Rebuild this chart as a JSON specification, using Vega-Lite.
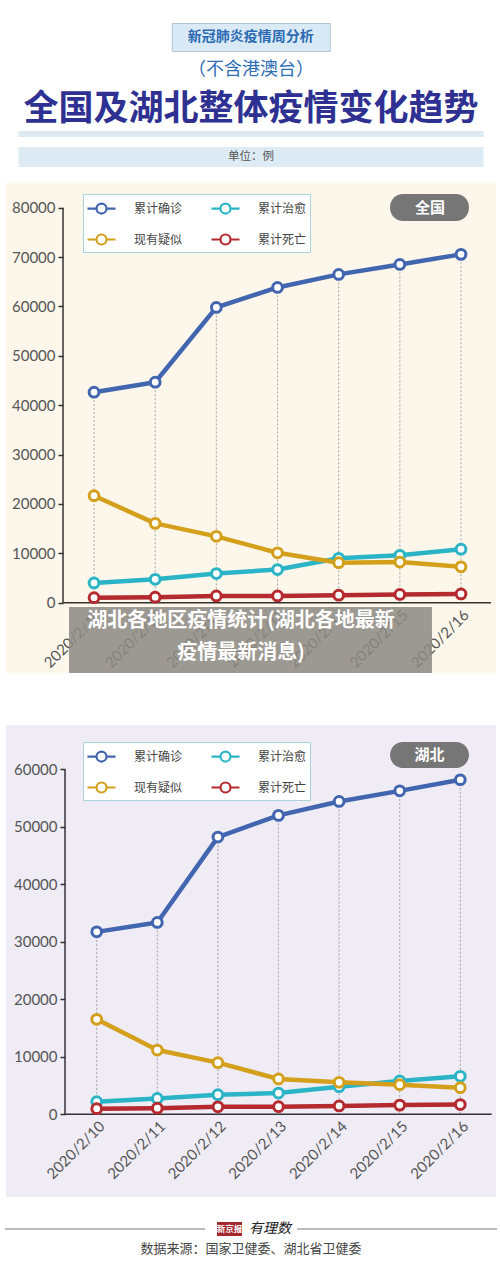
{
  "$schema": "https://vega.github.io/schema/vega-lite/v6.json",
  "background": "white",
  "padding": {"left": 5, "right": 5, "top": 22, "bottom": 20},
  "config": {
    "view": {"stroke": null},
    "font": "Noto Sans CJK SC",
    "text": {"font": "Noto Sans CJK SC"}
  },
  "datasets": {
    "national": [
      {"date": "2020/2/10", "day": 10, "series": "累计确诊", "value": 42638},
      {"date": "2020/2/11", "day": 11, "series": "累计确诊", "value": 44653},
      {"date": "2020/2/12", "day": 12, "series": "累计确诊", "value": 59804},
      {"date": "2020/2/13", "day": 13, "series": "累计确诊", "value": 63851},
      {"date": "2020/2/14", "day": 14, "series": "累计确诊", "value": 66492},
      {"date": "2020/2/15", "day": 15, "series": "累计确诊", "value": 68500},
      {"date": "2020/2/16", "day": 16, "series": "累计确诊", "value": 70548},
      {"date": "2020/2/10", "day": 10, "series": "累计治愈", "value": 3996},
      {"date": "2020/2/11", "day": 11, "series": "累计治愈", "value": 4740},
      {"date": "2020/2/12", "day": 12, "series": "累计治愈", "value": 5911},
      {"date": "2020/2/13", "day": 13, "series": "累计治愈", "value": 6723},
      {"date": "2020/2/14", "day": 14, "series": "累计治愈", "value": 9000},
      {"date": "2020/2/15", "day": 15, "series": "累计治愈", "value": 9600},
      {"date": "2020/2/16", "day": 16, "series": "累计治愈", "value": 10844},
      {"date": "2020/2/10", "day": 10, "series": "现有疑似", "value": 21675},
      {"date": "2020/2/11", "day": 11, "series": "现有疑似", "value": 16067},
      {"date": "2020/2/12", "day": 12, "series": "现有疑似", "value": 13435},
      {"date": "2020/2/13", "day": 13, "series": "现有疑似", "value": 10109},
      {"date": "2020/2/14", "day": 14, "series": "现有疑似", "value": 8100},
      {"date": "2020/2/15", "day": 15, "series": "现有疑似", "value": 8228},
      {"date": "2020/2/16", "day": 16, "series": "现有疑似", "value": 7264},
      {"date": "2020/2/10", "day": 10, "series": "累计死亡", "value": 1016},
      {"date": "2020/2/11", "day": 11, "series": "累计死亡", "value": 1113},
      {"date": "2020/2/12", "day": 12, "series": "累计死亡", "value": 1367},
      {"date": "2020/2/13", "day": 13, "series": "累计死亡", "value": 1380},
      {"date": "2020/2/14", "day": 14, "series": "累计死亡", "value": 1523},
      {"date": "2020/2/15", "day": 15, "series": "累计死亡", "value": 1665},
      {"date": "2020/2/16", "day": 16, "series": "累计死亡", "value": 1770}
    ],
    "hubei": [
      {"date": "2020/2/10", "day": 10, "series": "累计确诊", "value": 31728},
      {"date": "2020/2/11", "day": 11, "series": "累计确诊", "value": 33366},
      {"date": "2020/2/12", "day": 12, "series": "累计确诊", "value": 48206},
      {"date": "2020/2/13", "day": 13, "series": "累计确诊", "value": 51986},
      {"date": "2020/2/14", "day": 14, "series": "累计确诊", "value": 54406},
      {"date": "2020/2/15", "day": 15, "series": "累计确诊", "value": 56249},
      {"date": "2020/2/16", "day": 16, "series": "累计确诊", "value": 58182},
      {"date": "2020/2/10", "day": 10, "series": "累计治愈", "value": 2200},
      {"date": "2020/2/11", "day": 11, "series": "累计治愈", "value": 2750},
      {"date": "2020/2/12", "day": 12, "series": "累计治愈", "value": 3400},
      {"date": "2020/2/13", "day": 13, "series": "累计治愈", "value": 3700},
      {"date": "2020/2/14", "day": 14, "series": "累计治愈", "value": 4800},
      {"date": "2020/2/15", "day": 15, "series": "累计治愈", "value": 5800},
      {"date": "2020/2/16", "day": 16, "series": "累计治愈", "value": 6600},
      {"date": "2020/2/10", "day": 10, "series": "现有疑似", "value": 16520},
      {"date": "2020/2/11", "day": 11, "series": "现有疑似", "value": 11180},
      {"date": "2020/2/12", "day": 12, "series": "现有疑似", "value": 8980},
      {"date": "2020/2/13", "day": 13, "series": "现有疑似", "value": 6140},
      {"date": "2020/2/14", "day": 14, "series": "现有疑似", "value": 5560},
      {"date": "2020/2/15", "day": 15, "series": "现有疑似", "value": 5150},
      {"date": "2020/2/16", "day": 16, "series": "现有疑似", "value": 4630},
      {"date": "2020/2/10", "day": 10, "series": "累计死亡", "value": 974},
      {"date": "2020/2/11", "day": 11, "series": "累计死亡", "value": 1068},
      {"date": "2020/2/12", "day": 12, "series": "累计死亡", "value": 1310},
      {"date": "2020/2/13", "day": 13, "series": "累计死亡", "value": 1318},
      {"date": "2020/2/14", "day": 14, "series": "累计死亡", "value": 1457},
      {"date": "2020/2/15", "day": 15, "series": "累计死亡", "value": 1596},
      {"date": "2020/2/16", "day": 16, "series": "累计死亡", "value": 1696}
    ]
  },
  "resolve": {"scale": {"stroke": "independent"}, "legend": {"stroke": "independent"}},
  "vconcat": [
    {
      "width": 158, "height": 28,
      "view": {"fill": "#d9eaf6", "stroke": "#b3c4d3", "strokeWidth": 1},
      "data": {"values": [{"t": "新冠肺炎疫情周分析"}]},
      "mark": {"type": "text", "fontSize": 14, "fontWeight": "bold", "color": "#2b6ab2"},
      "encoding": {"text": {"field": "t"}}
    },
    {
      "width": 300, "height": 36,
      "data": {"values": [{"t": "（不含港澳台）"}]},
      "mark": {"type": "text", "fontSize": 18, "color": "#2f6fb5"},
      "encoding": {"text": {"field": "t"}}
    },
    {
      "width": 480, "height": 43,
      "data": {"values": [{"t": "全国及湖北整体疫情变化趋势"}]},
      "mark": {"type": "text", "fontSize": 35, "fontWeight": "bold", "color": "#2e3192", "dy": -1},
      "encoding": {"text": {"field": "t"}}
    },
    {
      "width": 465, "height": 6,
      "view": {"fill": "#dceaf3", "stroke": null},
      "data": {"values": []},
      "mark": "text"
    },
    {
      "width": 10, "height": 10,
      "data": {"values": []},
      "mark": "text"
    },
    {
      "width": 465, "height": 20,
      "view": {"fill": "#dcebf4", "stroke": null},
      "data": {"values": [{"t": "单位：例"}]},
      "mark": {"type": "text", "fontSize": 11.5, "color": "#555555"},
      "encoding": {"text": {"field": "t"}}
    },
    {
      "width": 10, "height": 16,
      "data": {"values": []},
      "mark": "text"
    },
    {
      "width": 490, "height": 490,
      "view": {"fill": "#fcf7ea", "stroke": null},
      "data": {"name": "national"},
      "layer": [
        {
          "transform": [{"filter": "datum.series === '累计确诊'"}],
          "mark": {"type": "rule", "strokeDash": [2, 2], "color": "#8f8f8f", "strokeWidth": 0.8},
          "encoding": {
            "x": {"field": "day", "type": "quantitative", "scale": {"domain": [8.561, 16.572], "nice": false, "zero": false},
              "axis": {"orient": "bottom", "offset": -70, "values": [10, 11, 12, 13, 14, 15, 16], "labelExpr": "'2020/2/' + datum.value", "labelAngle": -45, "labelAlign": "right", "labelBaseline": "top", "labelPadding": 4, "labelFont": "Lato", "labelFontSize": 15, "labelColor": "#555555", "labelOverlap": false, "labelFlush": false, "labelBound": false, "domain": false, "ticks": false, "grid": false, "title": null}},
            "y": {"field": "value", "type": "quantitative", "scale": {"domain": [-14238, 85003], "nice": false, "zero": false},
              "axis": {"orient": "left", "offset": -57, "values": [0, 10000, 20000, 30000, 40000, 50000, 60000, 70000, 80000], "format": "d", "labelFont": "Lato", "labelFontSize": 15, "labelColor": "#555555", "labelPadding": 3, "tickSize": 5, "tickColor": "#333333", "tickWidth": 1.5, "domain": false, "grid": false, "title": null, "labelOverlap": false, "labelFlush": false}},
            "y2": {"datum": 0}
          }
        },
        {
          "data": {"values": [{}]},
          "mark": {"type": "rule", "color": "#333333", "strokeWidth": 1.5},
          "encoding": {
            "x": {"datum": 9.493, "type": "quantitative", "scale": {"domain": [8.561, 16.572], "nice": false, "zero": false}},
            "x2": {"datum": 16.49},
            "y": {"datum": 0, "type": "quantitative", "scale": {"domain": [-14238, 85003], "nice": false, "zero": false}}
          }
        },
        {
          "data": {"values": [{}]},
          "mark": {"type": "rule", "color": "#333333", "strokeWidth": 1.5},
          "encoding": {
            "x": {"datum": 9.493, "type": "quantitative", "scale": {"domain": [8.561, 16.572], "nice": false, "zero": false}},
            "y": {"datum": 0, "type": "quantitative", "scale": {"domain": [-14238, 85003], "nice": false, "zero": false}},
            "y2": {"datum": 80000}
          }
        },
        {
          "mark": {"type": "line", "strokeWidth": 4.5, "strokeCap": "round", "strokeJoin": "round"},
          "encoding": {
            "x": {"field": "day", "type": "quantitative", "scale": {"domain": [8.561, 16.572], "nice": false, "zero": false}},
            "y": {"field": "value", "type": "quantitative", "scale": {"domain": [-14238, 85003], "nice": false, "zero": false}},
            "stroke": {"field": "series", "type": "nominal",
              "scale": {"domain": ["累计确诊", "现有疑似", "累计治愈", "累计死亡"], "range": ["#4265b0", "#d4a01c", "#2ab4c6", "#b52a2f"]},
              "legend": {"orient": "none", "legendX": 77, "legendY": 11, "columns": 2, "title": null,
                "symbolType": "M-1.4,0H-0.5M0.5,0H1.4M0.5,0A0.5,0.5,0,1,1,-0.5,0A0.5,0.5,0,1,1,0.5,0Z",
                "symbolSize": 400, "symbolStrokeWidth": 2.2, "symbolFillColor": "white", "symbolOffset": 4,
                "labelOffset": 21, "labelFont": "Noto Sans CJK SC", "labelFontSize": 12, "labelColor": "#444444",
                "columnPadding": 24, "rowPadding": 10, "padding": 3, "strokeColor": "#a9d3da", "fillColor": "white",
                "encode": {"symbols": {"update": {"fill": {"value": "white"}, "strokeWidth": {"value": 2.2}}}}}
            }
          }
        },
        {
          "mark": {"type": "point", "filled": true, "fill": "white", "size": 95, "strokeWidth": 3, "opacity": 1},
          "encoding": {
            "x": {"field": "day", "type": "quantitative", "scale": {"domain": [8.561, 16.572], "nice": false, "zero": false}},
            "y": {"field": "value", "type": "quantitative", "scale": {"domain": [-14238, 85003], "nice": false, "zero": false}},
            "stroke": {"field": "series", "type": "nominal",
              "scale": {"domain": ["累计确诊", "现有疑似", "累计治愈", "累计死亡"], "range": ["#4265b0", "#d4a01c", "#2ab4c6", "#b52a2f"]}}
          }
        },
        {
          "data": {"values": [{}]},
          "mark": {"type": "rect", "fill": "#767676", "cornerRadius": 13},
          "encoding": {
            "x": {"datum": 14.839, "type": "quantitative", "scale": {"domain": [8.561, 16.572], "nice": false, "zero": false}},
            "x2": {"datum": 16.13},
            "y": {"datum": 82775, "type": "quantitative", "scale": {"domain": [-14238, 85003], "nice": false, "zero": false}},
            "y2": {"datum": 77306}
          }
        },
        {
          "data": {"values": [{"t": "全国"}]},
          "mark": {"type": "text", "color": "white", "fontSize": 15, "fontWeight": "bold"},
          "encoding": {
            "x": {"datum": 15.493, "type": "quantitative", "scale": {"domain": [8.561, 16.572], "nice": false, "zero": false}},
            "y": {"datum": 80040, "type": "quantitative", "scale": {"domain": [-14238, 85003], "nice": false, "zero": false}},
            "text": {"field": "t"}
          }
        },
        {
          "data": {"values": [{}]},
          "mark": {"type": "rect", "fill": "#8c8984", "opacity": 0.86},
          "encoding": {
            "x": {"datum": 9.591, "type": "quantitative", "scale": {"domain": [8.561, 16.572], "nice": false, "zero": false}},
            "x2": {"datum": 15.525},
            "y": {"datum": -871, "type": "quantitative", "scale": {"domain": [-14238, 85003], "nice": false, "zero": false}},
            "y2": {"datum": -14238}
          }
        },
        {
          "data": {"values": [{}]},
          "mark": {"type": "text", "color": "white", "fontSize": 20, "fontWeight": "bold", "lineHeight": 32,
            "text": ["湖北各地区疫情统计(湖北各地最新", "疫情最新消息)"]},
          "encoding": {
            "x": {"datum": 12.403, "type": "quantitative", "scale": {"domain": [8.561, 16.572], "nice": false, "zero": false}},
            "y": {"datum": -3706, "type": "quantitative", "scale": {"domain": [-14238, 85003], "nice": false, "zero": false}}
          }
        }
      ]
    },
    {
      "width": 10, "height": 52,
      "data": {"values": []},
      "mark": "text"
    },
    {
      "width": 490, "height": 472,
      "view": {"fill": "#efecf6", "stroke": null},
      "data": {"name": "hubei"},
      "layer": [
        {
          "transform": [{"filter": "datum.series === '累计确诊'"}],
          "mark": {"type": "rule", "strokeDash": [2, 2], "color": "#8f8f8f", "strokeWidth": 0.8},
          "encoding": {
            "x": {"field": "day", "type": "quantitative", "scale": {"domain": [8.503, 16.589], "nice": false, "zero": false},
              "axis": {"orient": "bottom", "offset": -82.7, "values": [10, 11, 12, 13, 14, 15, 16], "labelExpr": "'2020/2/' + datum.value", "labelAngle": -45, "labelAlign": "right", "labelBaseline": "top", "labelPadding": 4, "labelFont": "Lato", "labelFontSize": 15, "labelColor": "#555555", "labelOverlap": false, "labelFlush": false, "labelBound": false, "domain": false, "ticks": false, "grid": false, "title": null}},
            "y": {"field": "value", "type": "quantitative", "scale": {"domain": [-14383, 67704], "nice": false, "zero": false},
              "axis": {"orient": "left", "offset": -59, "values": [0, 10000, 20000, 30000, 40000, 50000, 60000], "format": "d", "labelFont": "Lato", "labelFontSize": 15, "labelColor": "#555555", "labelPadding": 3, "tickSize": 5, "tickColor": "#333333", "tickWidth": 1.5, "domain": false, "grid": false, "title": null, "labelOverlap": false, "labelFlush": false}},
            "y2": {"datum": 0}
          }
        },
        {
          "data": {"values": [{}]},
          "mark": {"type": "rule", "color": "#333333", "strokeWidth": 1.5},
          "encoding": {
            "x": {"datum": 9.477, "type": "quantitative", "scale": {"domain": [8.503, 16.589], "nice": false, "zero": false}},
            "x2": {"datum": 16.518},
            "y": {"datum": 0, "type": "quantitative", "scale": {"domain": [-14383, 67704], "nice": false, "zero": false}}
          }
        },
        {
          "data": {"values": [{}]},
          "mark": {"type": "rule", "color": "#333333", "strokeWidth": 1.5},
          "encoding": {
            "x": {"datum": 9.477, "type": "quantitative", "scale": {"domain": [8.503, 16.589], "nice": false, "zero": false}},
            "y": {"datum": 0, "type": "quantitative", "scale": {"domain": [-14383, 67704], "nice": false, "zero": false}},
            "y2": {"datum": 60000}
          }
        },
        {
          "mark": {"type": "line", "strokeWidth": 4.5, "strokeCap": "round", "strokeJoin": "round"},
          "encoding": {
            "x": {"field": "day", "type": "quantitative", "scale": {"domain": [8.503, 16.589], "nice": false, "zero": false}},
            "y": {"field": "value", "type": "quantitative", "scale": {"domain": [-14383, 67704], "nice": false, "zero": false}},
            "stroke": {"field": "series", "type": "nominal",
              "scale": {"domain": ["累计确诊", "现有疑似", "累计治愈", "累计死亡"], "range": ["#4265b0", "#d4a01c", "#2ab4c6", "#b52a2f"]},
              "legend": {"orient": "none", "legendX": 77, "legendY": 17, "columns": 2, "title": null,
                "symbolType": "M-1.4,0H-0.5M0.5,0H1.4M0.5,0A0.5,0.5,0,1,1,-0.5,0A0.5,0.5,0,1,1,0.5,0Z",
                "symbolSize": 400, "symbolStrokeWidth": 2.2, "symbolFillColor": "white", "symbolOffset": 4,
                "labelOffset": 21, "labelFont": "Noto Sans CJK SC", "labelFontSize": 12, "labelColor": "#444444",
                "columnPadding": 24, "rowPadding": 10, "padding": 3, "strokeColor": "#a9d3da", "fillColor": "white",
                "encode": {"symbols": {"update": {"fill": {"value": "white"}, "strokeWidth": {"value": 2.2}}}}}
            }
          }
        },
        {
          "mark": {"type": "point", "filled": true, "fill": "white", "size": 95, "strokeWidth": 3, "opacity": 1},
          "encoding": {
            "x": {"field": "day", "type": "quantitative", "scale": {"domain": [8.503, 16.589], "nice": false, "zero": false}},
            "y": {"field": "value", "type": "quantitative", "scale": {"domain": [-14383, 67704], "nice": false, "zero": false}},
            "stroke": {"field": "series", "type": "nominal",
              "scale": {"domain": ["累计确诊", "现有疑似", "累计治愈", "累计死亡"], "range": ["#4265b0", "#d4a01c", "#2ab4c6", "#b52a2f"]}}
          }
        },
        {
          "data": {"values": [{}]},
          "mark": {"type": "rect", "fill": "#767676", "cornerRadius": 13},
          "encoding": {
            "x": {"datum": 14.84, "type": "quantitative", "scale": {"domain": [8.503, 16.589], "nice": false, "zero": false}},
            "x2": {"datum": 16.143},
            "y": {"datum": 64748, "type": "quantitative", "scale": {"domain": [-14383, 67704], "nice": false, "zero": false}},
            "y2": {"datum": 60227}
          }
        },
        {
          "data": {"values": [{"t": "湖北"}]},
          "mark": {"type": "text", "color": "white", "fontSize": 15, "fontWeight": "bold"},
          "encoding": {
            "x": {"datum": 15.491, "type": "quantitative", "scale": {"domain": [8.503, 16.589], "nice": false, "zero": false}},
            "y": {"datum": 62487, "type": "quantitative", "scale": {"domain": [-14383, 67704], "nice": false, "zero": false}},
            "text": {"field": "t"}
          }
        }
      ]
    },
    {
      "width": 10, "height": 25,
      "data": {"values": []},
      "mark": "text"
    },
    {
      "hconcat": [
        {"width": 200, "height": 1.5, "view": {"fill": "#a6a6a6", "stroke": null}, "data": {"values": []}, "mark": "text"},
        {"width": 11, "height": 1.5, "data": {"values": []}, "mark": "text"},
        {"width": 25, "height": 14, "view": {"fill": "#a3272c", "stroke": null},
          "data": {"values": [{"t": "新京报"}]},
          "mark": {"type": "text", "color": "white", "fontSize": 8.5, "fontWeight": "bold"},
          "encoding": {"text": {"field": "t"}}},
        {"width": 54, "height": 14,
          "data": {"values": [{"t": "有理数"}]},
          "mark": {"type": "text", "color": "#222222", "fontSize": 14, "fontStyle": "italic"},
          "encoding": {"text": {"field": "t"}}},
        {"width": 200, "height": 1.5, "view": {"fill": "#a6a6a6", "stroke": null}, "data": {"values": []}, "mark": "text"}
      ],
      "spacing": 0,
      "center": true,
      "bounds": "full"
    },
    {
      "width": 490, "height": 26,
      "data": {"values": [{"t": "数据来源：国家卫健委、湖北省卫健委"}]},
      "mark": {"type": "text", "fontSize": 13, "color": "#444444"},
      "encoding": {"text": {"field": "t"}}
    }
  ],
  "spacing": 0,
  "center": true,
  "bounds": "full"
}
